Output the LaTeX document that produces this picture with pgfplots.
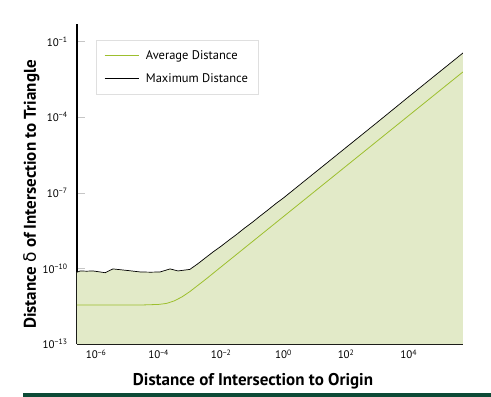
\documentclass[border=0pt]{standalone}
\usepackage{pgfplots}
\pgfplotsset{compat=1.18}
\usepackage{fontspec}
\setmainfont{PT Sans}
\newfontfamily\greekfont{DejaVu Sans}
\definecolor{fillgreen}{HTML}{E2EAC8}
\definecolor{avggreen}{HTML}{9DBF2E}
\definecolor{darkbar}{HTML}{0D4A36}
\begin{document}
\begin{tikzpicture}[x=1pt,y=1pt]
\useasboundingbox (0,0) rectangle (491,397);
\fill[darkbar] (23,0) rectangle (491,3.5);
\begin{axis}[
  at={(77pt,53pt)}, anchor=south west,
  scale only axis, width=386pt, height=320pt,
  xmode=log, ymode=log,
  xmin=2.455e-7, xmax=5.50e5,
  ymin=1e-13, ymax=0.501,
  axis x line=bottom, axis y line=left,
  axis line style={-, line width=1.6pt, black},
  xtick={1e-6,1e-4,1e-2,1,1e2,1e4},
  xticklabels={10\textsuperscript{−6},10\textsuperscript{−4},10\textsuperscript{−2},10\textsuperscript{0},10\textsuperscript{2},10\textsuperscript{4}},
  ytick={1e-13,1e-10,1e-7,1e-4,1e-1},
  yticklabels={10\textsuperscript{−13},10\textsuperscript{−10},10\textsuperscript{−7},10\textsuperscript{−4},10\textsuperscript{−1}},
  minor tick num=0,
  log ticks with fixed point=false,
  tick align=inside,
  major tick length=8pt,
  tick style={color=gray!45, line width=0.6pt},
  ticklabel style={font=\fontsize{11}{13}\selectfont},
  xticklabel style={yshift=-2pt},
  yticklabel style={xshift=-6pt},
  xlabel={Distance of Intersection to Origin},
  ylabel={Distance {\mdseries\greekfont δ} of Intersection to Triangle},
  label style={font=\fontsize{17}{20}\selectfont\bfseries},
  xlabel style={at={(axis description cs:0.456,0)}, anchor=base, yshift=-41pt},
  ylabel style={at={([xshift=-41pt]axis description cs:0,0.467)}, anchor=base},
  legend style={at={(axis description cs:0.049,0.95)}, anchor=north west,
    draw=gray!25, fill=white, font=\fontsize{12.5}{15}\selectfont,
    inner xsep=8pt, inner ysep=8pt, row sep=9pt, cells={anchor=west}},
  legend cell align=left,
  legend image code/.code={\draw[#1] (0pt,0pt) -- (34pt,0pt); \path (39pt,0pt);},
  clip=true,
]
\addplot[fill=fillgreen, draw=none, forget plot] coordinates {
 (2.455e-7,1e-13)
 (2.455e-7,7.08e-11) (3.162e-7,7.94e-11) (5.012e-7,7.76e-11) (7.943e-7,7.94e-11)
 (1.95e-6,6.76e-11) (3.47e-6,9.55e-11) (9.77e-6,8.32e-11) (2.57e-5,7.24e-11)
 (5.62e-5,7.08e-11) (1.12e-4,7.24e-11) (2.34e-4,9.55e-11) (4.17e-4,7.94e-11)
 (1e-3,9.12e-11) (1.778e-3,1.51e-10) (3.162e-3,2.63e-10) (5.623e-3,4.57e-10)
 (1e-2,7.59e-10) (1.778e-2,1.32e-9) (3.162e-2,2.24e-9) (5.623e-2,3.98e-9)
 (0.1,6.76e-9) (0.1778,1.20e-8) (0.3162,2.09e-8) (0.5623,3.72e-8)
 (1,6.31e-8) (3.162,2.00e-7) (10,6.31e-7) (100,6.31e-6) (1000,6.31e-5)
 (1e4,6.46e-4) (1e5,6.46e-3) (5.50e5,3.55e-2)
 (5.50e5,1e-13)
};
\addplot[color=avggreen, line width=0.8pt] coordinates {
 (2.455e-7,3.55e-12) (1e-5,3.55e-12) (3.162e-5,3.55e-12) (1e-4,3.72e-12)
 (1.778e-4,4.07e-12) (3.162e-4,5.13e-12) (5.623e-4,7.41e-12) (1e-3,1.20e-11)
 (1.778e-3,2.09e-11) (3.162e-3,3.63e-11) (1e-2,1.15e-10) (0.1,1.15e-9)
 (1,1.15e-8) (10,1.15e-7) (100,1.15e-6) (1000,1.15e-5) (1e4,1.15e-4)
 (1e5,1.15e-3) (5.50e5,6.31e-3)
};
\addlegendentry{Average Distance}
\addplot[color=black, line width=0.7pt] coordinates {
 (2.455e-7,7.08e-11) (3.162e-7,7.94e-11) (5.012e-7,7.76e-11) (7.943e-7,7.94e-11)
 (1.95e-6,6.76e-11) (3.47e-6,9.55e-11) (9.77e-6,8.32e-11) (2.57e-5,7.24e-11)
 (5.62e-5,7.08e-11) (1.12e-4,7.24e-11) (2.34e-4,9.55e-11) (4.17e-4,7.94e-11)
 (1e-3,9.12e-11) (1.778e-3,1.51e-10) (3.162e-3,2.63e-10) (5.623e-3,4.57e-10)
 (1e-2,7.59e-10) (1.778e-2,1.32e-9) (3.162e-2,2.24e-9) (5.623e-2,3.98e-9)
 (0.1,6.76e-9) (0.1778,1.20e-8) (0.3162,2.09e-8) (0.5623,3.72e-8)
 (1,6.31e-8) (3.162,2.00e-7) (10,6.31e-7) (100,6.31e-6) (1000,6.31e-5)
 (1e4,6.46e-4) (1e5,6.46e-3) (5.50e5,3.55e-2)
};
\addlegendentry{Maximum Distance}
\end{axis}
\end{tikzpicture}
\end{document}
